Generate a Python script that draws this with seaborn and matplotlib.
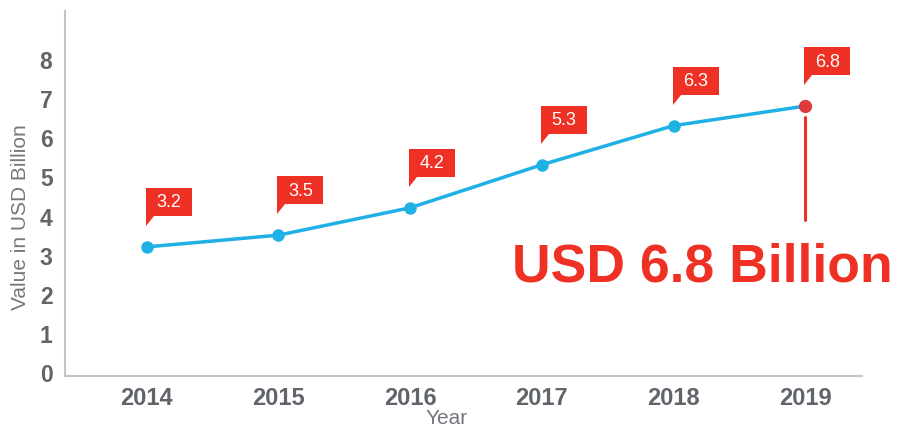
import matplotlib
matplotlib.use("Agg")
import matplotlib.pyplot as plt
import matplotlib.transforms as mtransforms
from matplotlib.patches import Polygon
import seaborn as sns

years = [2014, 2015, 2016, 2017, 2018, 2019]
values = [3.2, 3.5, 4.2, 5.3, 6.3, 6.8]
labels = ["3.2", "3.5", "4.2", "5.3", "6.3", "6.8"]
y_ticks = [0, 1, 2, 3, 4, 5, 6, 7, 8]

blue = "#1fb0e6"
red = "#ee3124"
dot_red = "#e0393e"
gray = "#60646b"

sns.set_style("white")
plt.rcParams["font.family"] = ["Liberation Sans", "DejaVu Sans"]

fig = plt.figure(figsize=(8.99, 4.31), dpi=100)
ax = fig.add_axes([65 / 899, 1 - 377 / 431, 797 / 899, 365 / 431])

sns.lineplot(x=years, y=values, color=blue, linewidth=2.5, marker="o",
             markersize=9, markeredgewidth=0, ax=ax)
# last point in red
sns.scatterplot(x=years[-1:], y=values[-1:], color=dot_red, s=90,
                linewidth=0, zorder=5, ax=ax)

ax.set_xlim(2013.38, 2019.43)
ax.set_ylim(-0.1, 9.23)
ax.set_xticks(years)
ax.set_xticklabels([str(y) for y in years])
ax.set_yticks(y_ticks)
ax.tick_params(axis="both", length=0, labelcolor=gray)
ax.tick_params(axis="x", pad=7, labelsize=17)
ax.tick_params(axis="y", pad=9, labelsize=16.5)
for t in ax.get_xticklabels() + ax.get_yticklabels():
    t.set_fontweight("bold")

for side in ["top", "right"]:
    ax.spines[side].set_visible(False)
for side in ["left", "bottom"]:
    ax.spines[side].set_color("#c4c4c4")
    ax.spines[side].set_linewidth(1.5)

ax.set_xlabel("Year", fontsize=15, color="#74787d")
ax.set_ylabel("Value in USD Billion", fontsize=15, color="#74787d")
ax.xaxis.set_label_coords(0.479, -0.088)
ax.yaxis.set_label_coords(-0.044, 0.438)

# callout flags above each point (offsets in pixels -> inches)
px = 0.01
flag = [(0, 21), (0, 59), (46, 59), (46, 31), (8, 31)]
for x, v, lab in zip(years, values, labels):
    trans = fig.dpi_scale_trans + mtransforms.ScaledTranslation(x, v, ax.transData)
    verts = [((dx - 1) * px, dy * px) for dx, dy in flag]
    ax.add_patch(Polygon(verts, closed=True, facecolor=red, edgecolor="none",
                         transform=trans, clip_on=False, zorder=6))
    ax.text(22 * px, 45 * px, lab, transform=trans, color="white",
            fontsize=13, ha="center", va="center", zorder=7)

# red drop line under the last point
trans = fig.dpi_scale_trans + mtransforms.ScaledTranslation(years[-1], values[-1], ax.transData)
ax.plot([0, 0], [-11 * px, -114 * px], color=red, linewidth=2.2,
        transform=trans, clip_on=False)

fig.text(893 / 899, 1 - 282 / 431, "USD 6.8 Billion", color=red,
         fontsize=38.5, fontweight="bold", ha="right", va="baseline")

fig.savefig("out.png", dpi=100)
